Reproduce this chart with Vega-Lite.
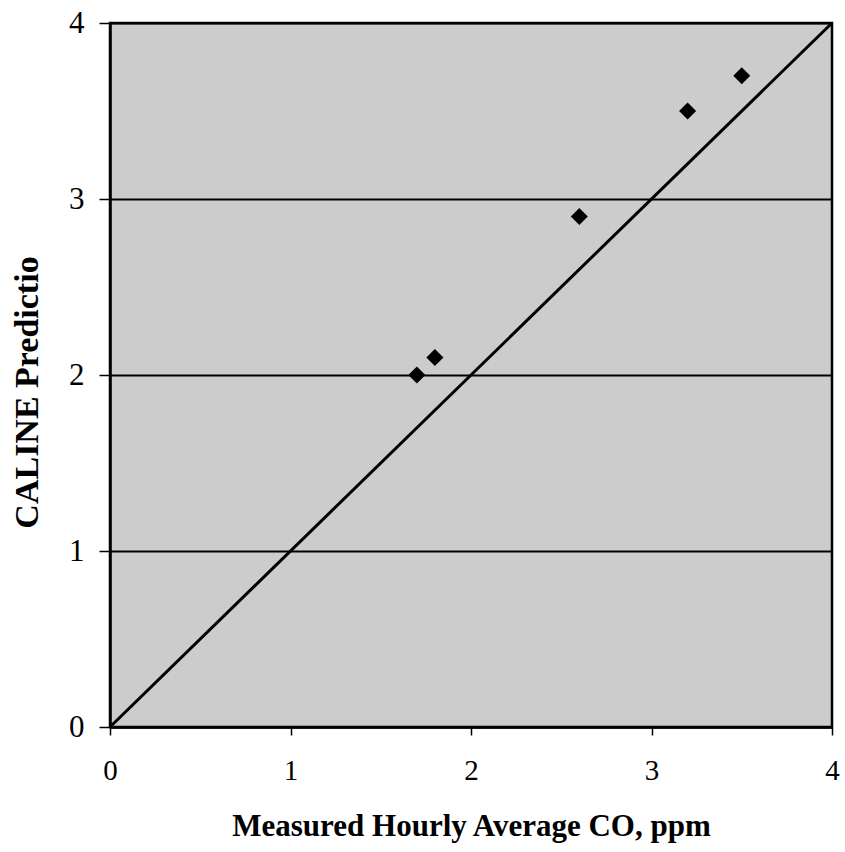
{
  "$schema": "https://vega.github.io/schema/vega-lite/v6.json",
  "width": 722,
  "height": 704,
  "autosize": {"type": "none"},
  "padding": {"left": 110, "top": 23, "right": 13, "bottom": 125},
  "background": "white",
  "config": {
    "view": {"fill": "#cccccc", "stroke": "black", "strokeWidth": 2.5},
    "font": "Liberation Serif"
  },
  "datasets": {
    "points": [
      {"measured": 1.7, "predicted": 2.0},
      {"measured": 1.8, "predicted": 2.1},
      {"measured": 2.6, "predicted": 2.9},
      {"measured": 3.2, "predicted": 3.5},
      {"measured": 3.5, "predicted": 3.7}
    ],
    "line": [
      {"measured": 0, "predicted": 0},
      {"measured": 4, "predicted": 4}
    ]
  },
  "layer": [
    {
      "data": {"name": "line"},
      "mark": {"type": "line", "color": "black", "strokeWidth": 3},
      "encoding": {
        "x": {
          "field": "measured", "type": "quantitative",
          "scale": {"domain": [0, 4], "nice": false},
          "axis": {
            "title": "Measured Hourly Average CO, ppm",
            "titleFont": "Liberation Serif", "titleFontSize": 31, "titleFontWeight": "bold",
            "titleColor": "black", "titlePadding": 26,
            "values": [0, 1, 2, 3, 4], "format": "d", "labelFlush": false,
            "labelFont": "Liberation Serif", "labelFontSize": 29, "labelColor": "black",
            "labelPadding": 21, "tickSize": 8, "tickColor": "black", "tickWidth": 1.5,
            "domainColor": "black", "domainWidth": 2.5, "grid": false
          }
        },
        "y": {
          "field": "predicted", "type": "quantitative",
          "scale": {"domain": [0, 4], "nice": false},
          "axis": {
            "title": "CALINE Predictio",
            "titleFont": "Liberation Serif", "titleFontSize": 34, "titleFontWeight": "bold",
            "titleColor": "black", "titleX": -83, "titleY": 369,
            "titleAlign": "center", "titleBaseline": "middle", "titleAngle": -90,
            "values": [0, 1, 2, 3, 4], "format": "d", "labelFlush": false,
            "labelFont": "Liberation Serif", "labelFontSize": 31, "labelColor": "black",
            "labelPadding": 15, "tickSize": 11, "tickColor": "black", "tickWidth": 1.5,
            "domainColor": "black", "domainWidth": 2.5,
            "grid": true, "gridColor": "black", "gridWidth": 2, "gridOpacity": 1
          }
        }
      }
    },
    {
      "data": {"name": "points"},
      "mark": {"type": "point", "shape": "diamond", "filled": true, "color": "black", "size": 290, "opacity": 1},
      "encoding": {
        "x": {"field": "measured", "type": "quantitative"},
        "y": {"field": "predicted", "type": "quantitative"}
      }
    }
  ]
}
